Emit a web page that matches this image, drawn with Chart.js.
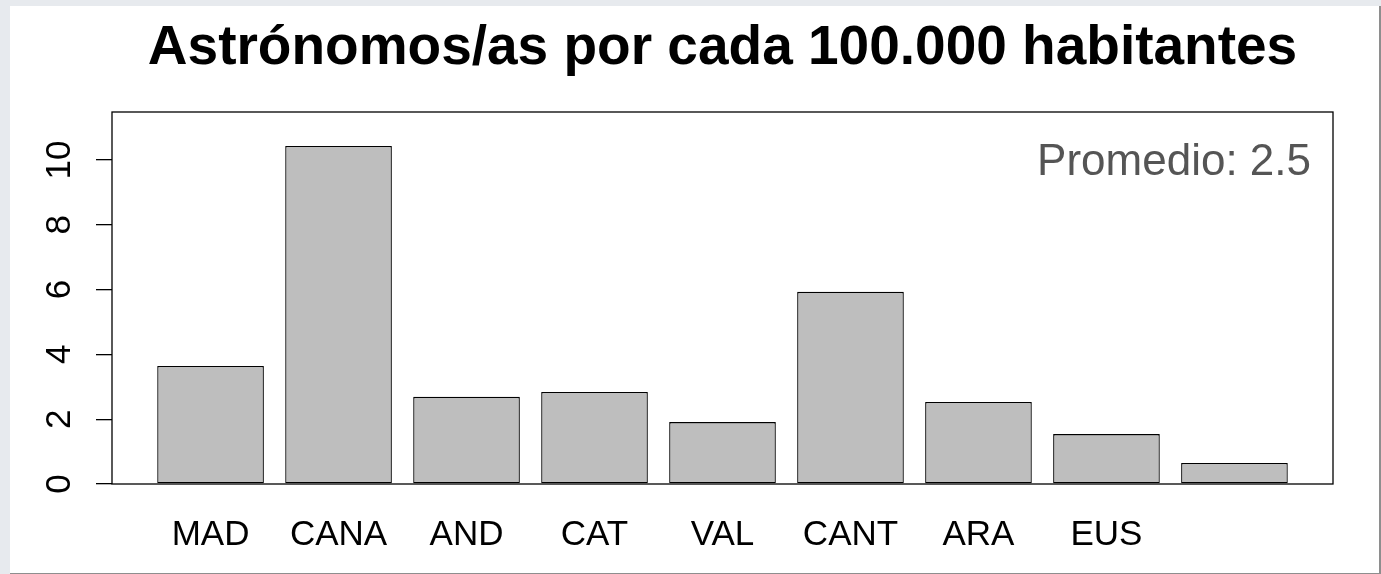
<!DOCTYPE html>
<html>
<head>
<meta charset="utf-8">
<script src="https://cdn.jsdelivr.net/npm/chart.js@4"></script>
<style>
  html, body { margin: 0; padding: 0; background: #e7eaee; width: 1381px; height: 574px; overflow: hidden; }
  #frame { position: absolute; left: 10px; top: 6px; width: 1369px; height: 567px; background: #fff;
           border-right: 2px solid #8e8e8e; border-bottom: 1px solid #8e8e8e; }
</style>
</head>
<body>
<div id="frame"><canvas id="chart" width="1369" height="567"></canvas></div>
<script>
// data
const categories = ['MAD', 'CANA', 'AND', 'CAT', 'VAL', 'CANT', 'ARA', 'EUS', ''];
const values = [3.64, 10.43, 2.69, 2.84, 1.91, 5.93, 2.53, 1.54, 0.65];
const yTicks = [0, 2, 4, 6, 8, 10];
const titleText = 'Astrónomos/as por cada 100.000 habitantes';
const noteText = 'Promedio: 2.5';

const FONT = "'Liberation Sans', Arial, Helvetica, sans-serif";

// R-style box, title and note
const rDecor = {
    id: 'rDecor',
    afterDraw(chart) {
        const { ctx, chartArea: a } = chart;
        ctx.save();
        ctx.strokeStyle = '#000';
        ctx.lineWidth = 1.3;
        ctx.strokeRect(a.left, a.top, a.right - a.left, a.bottom - a.top);

        ctx.fillStyle = '#000';
        ctx.font = 'bold 55px ' + FONT;
        ctx.textAlign = 'center';
        ctx.textBaseline = 'alphabetic';
        ctx.fillText(titleText, (a.left + a.right) / 2, 58);

        ctx.fillStyle = '#555';
        ctx.font = '44px ' + FONT;
        ctx.textAlign = 'right';
        ctx.fillText(noteText, a.right - 22, 169);
        ctx.restore();
    }
};

new Chart(document.getElementById('chart'), {
    type: 'bar',
    data: {
        datasets: [{
            data: values.map((v, i) => ({ x: i, y: v })),
            backgroundColor: '#bebebe',
            borderColor: '#000',
            borderWidth: 1.3,
            borderSkipped: false,
            barPercentage: 1 / 1.2,
            categoryPercentage: 1
        }]
    },
    options: {
        responsive: false,
        animation: false,
        devicePixelRatio: 1,
        layout: { padding: { top: 106, right: 46, left: 0, bottom: 0 } },
        plugins: { legend: { display: false }, tooltip: { enabled: false }, title: { display: false } },
        scales: {
            x: {
                type: 'linear',
                offset: false,
                min: -0.77,
                max: 8.77,
                grid: { display: false, drawTicks: false },
                border: { display: false },
                afterBuildTicks: s => { s.ticks = categories.map((c, i) => ({ value: i })); },
                afterFit: s => { s.height = 89; },
                ticks: {
                    autoSkip: false,
                    maxRotation: 0,
                    padding: 30,
                    color: '#000',
                    font: { family: FONT, size: 35 },
                    callback: v => categories[v]
                }
            },
            y: {
                min: 0,
                max: 11.48,
                grid: { display: true, drawOnChartArea: false, drawTicks: true, tickLength: 16, color: '#000', lineWidth: 1.3 },
                border: { display: false },
                afterBuildTicks: s => { s.ticks = yTicks.map(v => ({ value: v })); },
                afterFit: s => { s.width = 102; },
                ticks: {
                    autoSkip: false,
                    minRotation: 90,
                    maxRotation: 90,
                    crossAlign: 'center',
                    padding: 16,
                    color: '#000',
                    font: { family: FONT, size: 35 }
                }
            }
        }
    },
    plugins: [rDecor]
});
</script>
</body>
</html>
